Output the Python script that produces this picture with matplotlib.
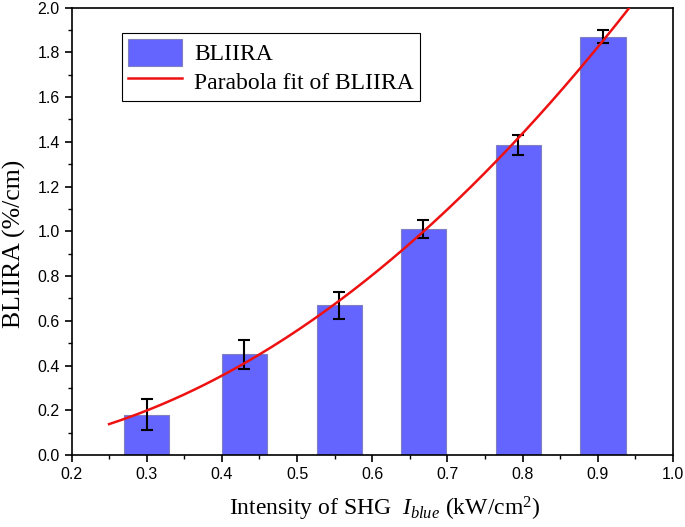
import numpy as np
import matplotlib
matplotlib.use("Agg")
import matplotlib.pyplot as plt
from matplotlib.ticker import MultipleLocator

plt.rcParams['mathtext.fontset'] = 'custom'
plt.rcParams['mathtext.rm'] = 'Liberation Serif'
plt.rcParams['mathtext.it'] = 'Liberation Serif:italic'

# bars (intensity, BLIIRA, error)
intensity = [0.300, 0.430, 0.556, 0.668, 0.794, 0.907]
bliira = [0.18, 0.45, 0.67, 1.01, 1.385, 1.87]
bliira_err = [0.07, 0.065, 0.06, 0.04, 0.045, 0.03]

# parabola fit of the bars, drawn from 0.25 on
coef = np.polyfit(intensity, bliira, 2)
xfit = np.linspace(0.25, 0.95, 200)
yfit = np.polyval(coef, xfit)

fig = plt.figure(figsize=(6.85, 5.27), dpi=100)
ax = fig.add_axes([0.1044, 0.1366, 0.878, 0.849])

bars = ax.bar(intensity, bliira, width=0.06, color='#6464ff', edgecolor='#8080c0',
              linewidth=0.8, label='BLIIRA', zorder=2)
ax.errorbar(intensity, bliira, yerr=bliira_err, fmt='none', ecolor='black',
            elinewidth=1.5, capsize=4, capthick=1.5, zorder=3)
line, = ax.plot(xfit, yfit, color='#ee1111', lw=1.8, label='Parabola fit of BLIIRA', zorder=4)

ax.set_xlim(0.2, 1.0)
ax.set_ylim(0.0, 2.0)
ax.xaxis.set_major_locator(MultipleLocator(0.1))
ax.xaxis.set_minor_locator(MultipleLocator(0.05))
ax.yaxis.set_major_locator(MultipleLocator(0.2))
ax.yaxis.set_minor_locator(MultipleLocator(0.1))
ax.tick_params(which='major', direction='out', length=5, width=1.2,
               labelsize=11.5, top=False, right=False)
ax.tick_params(which='minor', direction='out', length=3, width=1.0,
               top=False, right=False)
for lab in ax.get_xticklabels() + ax.get_yticklabels():
    lab.set_family('Liberation Sans')
for s in ax.spines.values():
    s.set_linewidth(1.2)

ax.set_xlabel(r'Intensity of SHG  $I_{blue}$ (kW/cm$^2$)', family='Liberation Serif',
              fontsize=17)
ax.set_ylabel('BLIIRA (%/cm)', family='Liberation Serif', fontsize=18.5)
ax.xaxis.set_label_coords(0.521, -0.088)
ax.yaxis.set_label_coords(-0.075, 0.4715)

leg = ax.legend([bars, line], ['BLIIRA', 'Parabola fit of BLIIRA'],
                loc='upper left', bbox_to_anchor=(0.084, 0.943), fancybox=False,
                edgecolor='black', framealpha=1, handlelength=2.3, handleheight=1.4,
                borderpad=0.25, labelspacing=0.05, handletextpad=0.5, borderaxespad=0,
                prop={'family': 'Liberation Serif', 'size': 17})
leg.get_frame().set_linewidth(0.8)

fig.savefig('out.png', dpi=100)
